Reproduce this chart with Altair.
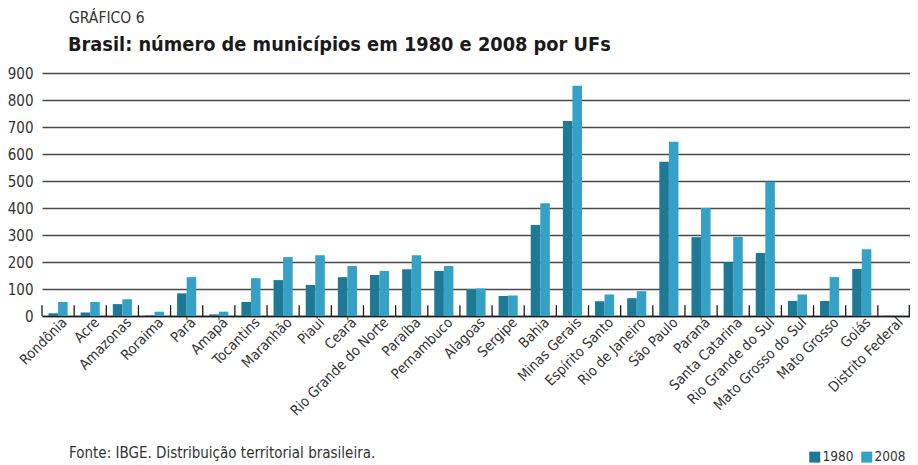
import altair as alt
import pandas as pd

ufs = ["Rondônia", "Acre", "Amazonas", "Roraima", "Pará", "Amapá", "Tocantins",
       "Maranhão", "Piauí", "Ceará", "Rio Grande do Norte", "Paraíba", "Pernambuco",
       "Alagoas", "Sergipe", "Bahia", "Minas Gerais", "Espírito Santo", "Rio de Janeiro",
       "São Paulo", "Paraná", "Santa Catarina", "Rio Grande do Sul", "Mato Grosso do Sul",
       "Mato Grosso", "Goiás", "Distrito Federal"]
v1980 = [10, 13, 44, 2, 84, 6, 52, 133, 115, 144, 152, 173, 167, 100, 74, 337, 722,
         55, 66, 571, 292, 199, 233, 56, 56, 174, 1]
v2008 = [52, 52, 62, 16, 144, 16, 140, 218, 225, 185, 167, 225, 185, 102, 76, 418, 853,
         80, 92, 645, 400, 293, 497, 80, 144, 247, 1]
years = ["1980", "2008"]
colors = ["#1f7894", "#35a1c6"]
y_ticks = [0, 100, 200, 300, 400, 500, 600, 700, 800, 900]

rows = []
for i, uf in enumerate(ufs):
    rows.append({"uf": uf, "ano": years[0], "n": v1980[i]})
    rows.append({"uf": uf, "ano": years[1], "n": v2008[i]})
df = pd.DataFrame(rows)
cats = pd.DataFrame({"uf": ufs, "lo": [0] * len(ufs), "hi": [40] * len(ufs)})

FONT = "DejaVu Sans Condensed"
W, H = 868, 243

xscale = alt.Scale(domain=ufs, paddingInner=0, paddingOuter=0)
yscale = alt.Scale(domain=[0, 900], nice=False)
yaxis = alt.Axis(values=y_ticks, domain=False, ticks=False, grid=True,
                 gridColor="#4a4a4a", gridWidth=1.3, labelFont=FONT,
                 labelFontSize=15, labelColor="#333333", labelPadding=9)

bars = alt.Chart(df).mark_bar().encode(
    x=alt.X("uf:N", scale=xscale, title=None,
            axis=alt.Axis(labelAngle=-45, labelAlign="right", labelBaseline="middle",
                          ticks=False, domainColor="#1a1a1a", domainWidth=1.6,
                          labelFont=FONT, labelFontSize=14.3, labelColor="#333333",
                          labelPadding=4, labelOffset=7, grid=False)),
    xOffset=alt.XOffset("ano:N", scale=alt.Scale(paddingOuter=0.68, paddingInner=0)),
    y=alt.Y("n:Q", scale=yscale, title=None, axis=yaxis),
    color=alt.Color("ano:N", scale=alt.Scale(domain=years, range=colors), title=None,
                    legend=alt.Legend(orient="none", legendX=766, legendY=377,
                                      direction="horizontal", symbolType="square",
                                      symbolSize=121, symbolStrokeWidth=0,
                                      labelFont=FONT, labelFontSize=13.5,
                                      labelColor="#333333", columnPadding=6,
                                      labelOffset=1, padding=0)),
)

ticks = alt.Chart(cats).mark_rule(color="#1a1a1a", strokeWidth=1.3).encode(
    x=alt.X("uf:N", scale=xscale, bandPosition=0, title=None),
    y=alt.Y("lo:Q", scale=yscale, title=None, axis=yaxis),
    y2=alt.Y2("hi:Q"),
)
tick_end = alt.Chart(pd.DataFrame({"a": [0]})).mark_rule(color="#1a1a1a", strokeWidth=1.3).encode(
    x=alt.value(W - 0.7), y=alt.value(H), y2=alt.value(H - 11)
)

def label(text, x, y, size, weight="normal", color="#333333"):
    return alt.Chart(pd.DataFrame({"t": [text]})).mark_text(
        align="left", baseline="middle", font=FONT, fontSize=size,
        fontWeight=weight, color=color
    ).encode(x=alt.value(x), y=alt.value(y), text="t:N")

sup = label("GRÁFICO 6", 27, -55, 15.5)
title = label("Brasil: número de municípios em 1980 e 2008 por UFs", 26, -28, 19.8,
              weight="bold", color="#1a1a1a")
src = label("Fonte: IBGE. Distribuição territorial brasileira.", 27, 380, 15)

chart = alt.layer(bars, ticks, tick_end, sup, title, src).properties(
    width=W, height=H,
    autosize=alt.AutoSizeParams(type="none"),
    padding={"left": 34, "top": 65, "right": 0, "bottom": 149},
).configure_view(stroke=None)

chart.save("out.html", embed_options={"renderer": "svg", "actions": False})
